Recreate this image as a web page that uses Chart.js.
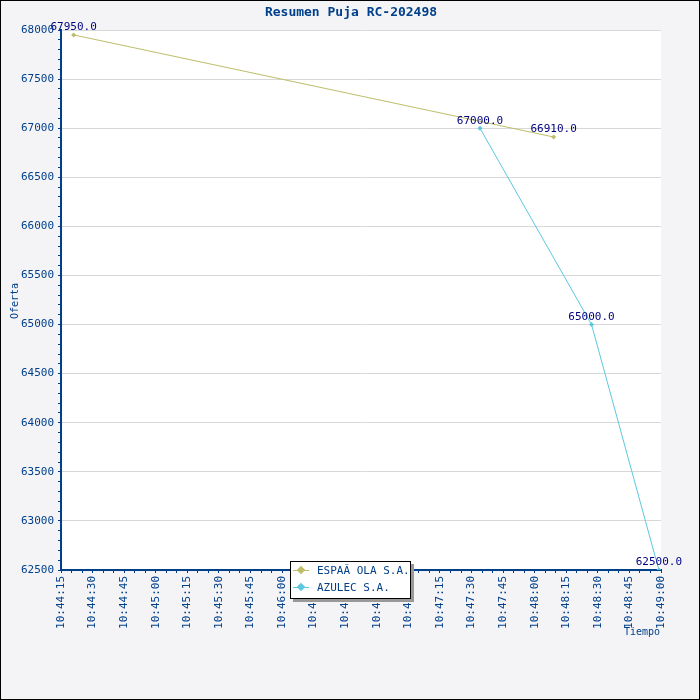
<!DOCTYPE html>
<html>
<head>
<meta charset="utf-8">
<script src="https://cdn.jsdelivr.net/npm/chart.js@4"></script>
<style>
body { margin: 0; }
#wrap { position: relative; width: 698px; height: 698px; border: 1px solid #000; background: #f4f4f6; }
#legend { position: absolute; left: 289px; top: 560px; width: 119px; height: 36px; background: #fff; border: 1px solid #000; box-shadow: 3px 3px 0 #999; font: 11px "DejaVu Sans Mono", monospace; color: #003f8a; }
#legend div { height: 17px; line-height: 17px; padding-left: 26px; position: relative; }
#legend span { position: absolute; left: 2px; top: 8px; width: 16px; height: 1px; }
#legend i { position: absolute; left: 7px; top: 5px; width: 6px; height: 6px; transform: rotate(45deg); }
</style>
</head>
<body>
<div id="wrap">
<canvas id="c" width="698" height="698"></canvas>
<div id="legend"></div>
</div>
<script>
// bid times (seconds of day) and amounts
const espanaTimes = ['10:44:21', '10:48:09'];
const espanaValues = [67950, 66910];
const azulecTimes = ['10:47:34', '10:48:27', '10:48:59'];
const azulecValues = [67000, 65000, 62500];
const seriesNames = ['ESPAÃ OLA S.A.', 'AZULEC S.A.'];
const seriesColors = ['#bdbd6a', '#5cc8e0'];

function toSec(t) {
    const p = t.split(':').map(Number);
    return p[0] * 3600 + p[1] * 60 + p[2];
}
function fmt(s) {
    const h = Math.floor(s / 3600), m = Math.floor(s % 3600 / 60), x = s % 60;
    return [h, m, x].map(v => String(v).padStart(2, '0')).join(':');
}
function pts(times, vals) {
    return times.map((t, i) => ({ x: toSec(t), y: vals[i] }));
}

const FONT = { family: 'DejaVu Sans Mono', size: 11 };
const BLUE = '#003f8a';

// legend box
const lg = document.getElementById('legend');
seriesNames.forEach((n, i) => {
    lg.innerHTML += `<div><span style="background:${seriesColors[i]}"></span><i style="background:${seriesColors[i]}"></i>${n}</div>`;
});

const extras = {
    id: 'extras',
    afterDatasetsDraw(chart) {
        const ctx = chart.ctx;
        ctx.save();
        ctx.font = '11px "DejaVu Sans Mono", monospace';
        ctx.fillStyle = '#000080';
        ctx.textAlign = 'center';
        ctx.textBaseline = 'bottom';
        chart.data.datasets.forEach((ds, di) => {
            chart.getDatasetMeta(di).data.forEach((p, i) => {
                ctx.fillText(ds.data[i].y.toFixed(1), p.x, p.y - 2);
            });
        });
        // title
        ctx.fillStyle = BLUE;
        ctx.font = 'bold 13px "DejaVu Sans Mono", monospace';
        ctx.textBaseline = 'middle';
        ctx.fillText('Resumen Puja RC-202498', 350, 12);
        // axis titles
        ctx.font = '10px "DejaVu Sans Mono", monospace';
        ctx.fillText('Tiempo', 641, 631);
        ctx.translate(14, 300);
        ctx.rotate(-Math.PI / 2);
        ctx.fillText('Oferta', 0, 0);
        ctx.restore();
    }
};

new Chart(document.getElementById('c'), {
    type: 'line',
    data: {
        datasets: [
            { label: seriesNames[0], data: pts(espanaTimes, espanaValues), borderColor: seriesColors[0], backgroundColor: seriesColors[0] },
            { label: seriesNames[1], data: pts(azulecTimes, azulecValues), borderColor: seriesColors[1], backgroundColor: seriesColors[1] }
        ]
    },
    options: {
        responsive: false,
        animation: false,
        layout: { padding: { top: 29, right: 38, left: 0, bottom: 0 } },
        elements: {
            line: { borderWidth: 1, tension: 0 },
            point: { pointStyle: 'rectRot', radius: 2.5, borderWidth: 0 }
        },
        plugins: { legend: { display: false }, tooltip: { enabled: false } },
        scales: {
            x: {
                type: 'linear',
                min: toSec('10:44:15'),
                max: toSec('10:49:00'),
                afterFit(s) { s.height = 129; },
                afterBuildTicks(s) {
                    const t = [];
                    for (let v = s.min; v <= s.max; v += 5) t.push({ value: v });
                    s.ticks = t;
                },
                ticks: {
                    color: BLUE, font: FONT, maxRotation: 90, minRotation: 90, autoSkip: false,
                    callback: v => (v % 15 === 0 ? fmt(v) : '')
                },
                grid: {
                    drawOnChartArea: false,
                    color: BLUE,
                    tickLength: c => (c.tick && c.tick.value % 15 === 0 ? 6 : 3)
                },
                border: { color: BLUE, width: 2 }
            },
            y: {
                min: 62500,
                max: 68000,
                afterFit(s) { s.width = 60; },
                afterBuildTicks(s) {
                    const t = [];
                    for (let v = s.min; v <= s.max; v += 100) t.push({ value: v });
                    s.ticks = t;
                },
                ticks: {
                    color: BLUE, font: FONT, autoSkip: false, padding: 4,
                    callback: v => (v % 500 === 0 ? String(v) : '')
                },
                grid: {
                    color: c => (c.tick && c.tick.value % 500 === 0 ? '#d8d8d8' : 'rgba(0,0,0,0)'),
                    tickColor: BLUE,
                    tickLength: c => (c.tick && c.tick.value % 500 === 0 ? 6 : 3)
                },
                border: { color: BLUE, width: 2 }
            }
        }
    },
    plugins: [{
        id: 'bg',
        beforeDraw(chart) {
            const a = chart.chartArea, ctx = chart.ctx;
            ctx.save();
            ctx.fillStyle = '#fff';
            ctx.fillRect(a.left, a.top, a.right - a.left, a.bottom - a.top);
            ctx.restore();
        }
    }, extras]
});
</script>
</body>
</html>
